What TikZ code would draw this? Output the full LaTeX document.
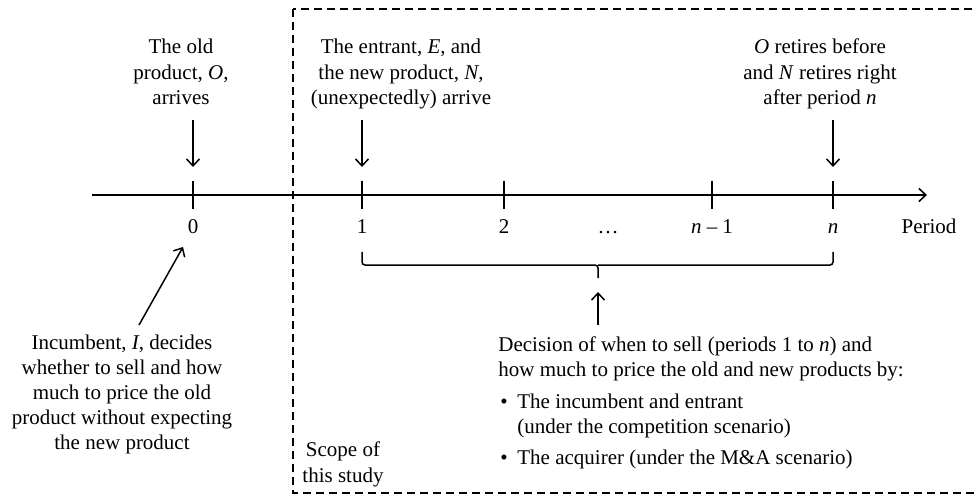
\documentclass[tikz,border=0pt]{standalone}
\usepackage{fontspec}
\setmainfont{Liberation Serif}
\usetikzlibrary{arrows.meta,positioning,calc}
\newcommand{\tlbullet}{\hspace*{1pt}\makebox[8.5pt][l]{\textbullet}}
\newcommand{\tlindent}{\hspace*{9.5pt}}

\begin{document}
\begin{tikzpicture}[x=0.5pt, y=-0.5pt,
    lbl/.style={align=center, inner sep=0pt, anchor=base, font=\fontsize{10.5}{12.75}\selectfont},
    note/.style={align=left, inner sep=0pt, anchor=base west, font=\fontsize{10.5}{12.5}\selectfont},
    arr/.style={-{Straight Barb[length=3.5pt, width=6.5pt, line width=0.75pt]}, line width=0.75pt},
    tick/.style={line width=0.75pt},
    studybox/.style={line width=1pt, dash pattern=on 4pt off 2.5pt}]

    \clip (0,0) rectangle (977,496);

    % time axis
    \coordinate (start) at (92,195);
    \coordinate (end) at (927,195);
    \draw[arr] (start) -- (end);

    % ticks and period labels
    \foreach \p/\px/\t in {0/193/0, 1/362/1, 2/504/2, m/712/{\textit{n} – 1}, n/833/\textit{n}} {
        \coordinate (p\p) at (\px,195);
        \draw[tick] (\px,181) -- (\px,209);
        \node[lbl] (l\p) at (\px,234) {\t};
    }
    \node[lbl] (ldots) at (608,234) {…};
    \node[lbl] (lper) at (929,234) {Period};

    % events above the axis (base = last line)
    \node[lbl] (old) at (181,105) {The old\\product, \textit{O},\\arrives};
    \node[lbl] (entr) at (401,105) {The entrant, \textit{E}, and\\the new product, \textit{N},\\(unexpectedly) arrive};
    \node[lbl] (ret) at (820,105) {\textit{O} retires before\\and \textit{N} retires right\\after period \textit{n}};

    \foreach \p in {0,1,n} {
        \coordinate (a\p) at ($(p\p)+(0,-75)$);
        \coordinate (b\p) at ($(p\p)+(0,-28)$);
        \draw[arr] (a\p) -- (b\p);
    }

    % brace under periods 1 to n
    \coordinate (bt) at (598,265);
    \coordinate (btip) at (598,278);
    \draw[tick, rounded corners=1.5pt] (362,252) |- (bt) -- (btip);
    \draw[tick, rounded corners=1.5pt] (833,252) |- (bt);

    % decisions in the study
    \coordinate (dfoot) at (598,325);
    \coordinate (dhead) at (598,292);
    \draw[arr] (dfoot) -- (dhead);
    \node[note] (dec) at (498,464) {Decision of when to sell (periods 1 to \textit{n}) and\\
        how much to price the old and new products by:\\[3.5pt]
        \tlbullet The incumbent and entrant\\
        \tlindent(under the competition scenario)\\[3pt]
        \tlbullet The acquirer (under the M\&A scenario)};

    % decision at period 0
    \node[lbl, font=\fontsize{10.5}{12.5}\selectfont] (inc) at (122,449) {Incumbent, \textit{I}, decides\\whether to sell and how\\much to price the old\\product without expecting\\the new product};
    \coordinate (ifoot) at (139,325);
    \coordinate (ihead) at (183,247);
    \draw[arr] (ifoot) -- (ihead);

    % scope of the study
    \draw[studybox] (293,9) rectangle (1000,493);
    \node[lbl] (scp) at (343,482) {Scope of\\this study};
\end{tikzpicture}
\end{document}
